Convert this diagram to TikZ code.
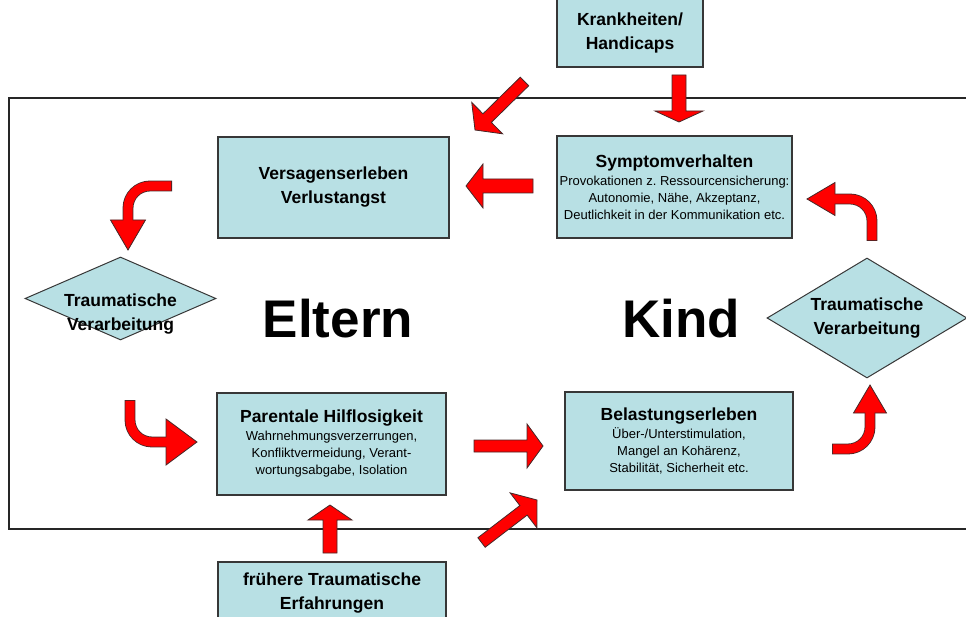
\documentclass[tikz,border=0pt]{standalone}
\usepackage{fontspec}
\setmainfont{Liberation Sans}
\usetikzlibrary{calc,shapes.geometric}
\definecolor{boxfill}{RGB}{184,224,228}
\definecolor{boxline}{RGB}{55,55,55}
\definecolor{arrline}{RGB}{70,40,40}
\newcommand{\blockarr}[5]{%
  \coordinate (ab) at ($#2!#5!#1$);
  \filldraw[barrow] ($#1!#3!90:#2$) -- ($(ab)!#3!90:#2$) -- ($(ab)!#4!90:#2$) -- #2 --
    ($(ab)!#4!-90:#2$) -- ($(ab)!#3!-90:#2$) -- ($#1!#3!-90:#2$) -- cycle;}
\frenchspacing
\begin{document}
\begin{tikzpicture}[x=1pt,y=-1pt,
  box/.style={draw=boxline, line width=1.3pt, fill=boxfill, inner sep=0pt},
  boxtext/.style={align=center, inner sep=0pt, font=\fontsize{13}{17}\selectfont},
  titletext/.style={align=center, inner sep=0pt, font=\bfseries\fontsize{17.5}{24}\selectfont},
  dia/.style={diamond, draw=boxline, line width=1pt, fill=boxfill, inner sep=0pt},
  barrow/.style={fill=red, draw=arrline, line width=0.8pt, line join=miter},
  shaftout/.style={draw=arrline, line width=10.8pt, rounded corners=22pt},
  shaftin/.style={draw=red, line width=9.2pt, rounded corners=22pt},
  frame/.style={draw=black!85, line width=1.2pt},
  big/.style={font=\bfseries\fontsize{53}{53}\selectfont, inner sep=0pt}]
\useasboundingbox (0,0) rectangle (966,617);
% frame
\draw[frame] (975,98) -- (9,98) -- (9,529) -- (975,529);
% boxes
\node[box, minimum width=146, minimum height=68] (kr) at (630,33) {};
\node[titletext] (krt) at (kr.center) {Krankheiten/\\Handicaps};
\node[box, minimum width=235, minimum height=102] (sym) at (674.5,187) {};
\node[boxtext] (symt) at (sym.center) {{\bfseries\fontsize{17.5}{19}\selectfont Symptomverhalten}\\[1pt]Provokationen z.\ Ressourcensicherung:\\Autonomie, Nähe, Akzeptanz,\\Deutlichkeit in der Kommunikation etc.};
\node[box, minimum width=231, minimum height=101] (vers) at (333.5,187.5) {};
\node[titletext] (verst) at (vers.center) {Versagenserleben\\Verlustangst};
\node[box, minimum width=229, minimum height=102] (par) at (331.5,444) {};
\node[boxtext] (part) at (par.center) {{\bfseries\fontsize{17.5}{19}\selectfont Parentale Hilflosigkeit}\\[1pt]Wahrnehmungsverzerrungen,\\Konfliktvermeidung, Verant-\\wortungsabgabe, Isolation};
\node[box, minimum width=228, minimum height=98] (bel) at (679,441) {};
\node[boxtext] (belt) at (bel.center) {{\bfseries\fontsize{17.5}{19}\selectfont Belastungserleben}\\[1pt]Über-/Unterstimulation,\\Mangel an Kohärenz,\\Stabilität, Sicherheit etc.};
\node[box, minimum width=228, minimum height=62] (fr) at (332,593) {};
\node[titletext] (frt) at (fr.center) {frühere Traumatische\\Erfahrungen};
% diamonds
\node[dia, minimum width=191, minimum height=83] (d1) at (120.5,298.5) {};
\node[titletext] (d1t) at (120.5,314) {Traumatische\\Verarbeitung};
\node[dia, minimum width=200, minimum height=120] (d2) at (867,318) {};
\node[titletext] (d2t) at (867,318) {Traumatische\\Verarbeitung};
% big labels
\node[big] (eltern) at (338,319) {Eltern};
\node[big] (kind) at (681,319) {Kind};
% straight block arrows
\coordinate (a1t) at (524.5,81.5); \coordinate (a1h) at (475,130);
\blockarr{(a1t)}{(a1h)}{6pt}{22pt}{17pt}
\coordinate (a2t) at (679,75); \coordinate (a2h) at (679,122);
\blockarr{(a2t)}{(a2h)}{7pt}{24pt}{11pt}
\coordinate (a3t) at (533,186); \coordinate (a3h) at (466,186);
\blockarr{(a3t)}{(a3h)}{7pt}{22pt}{17pt}
\coordinate (a4t) at (474,446); \coordinate (a4h) at (543,446);
\blockarr{(a4t)}{(a4h)}{6pt}{22pt}{16pt}
\coordinate (a5t) at (481.5,542.5); \coordinate (a5h) at (537,500);
\blockarr{(a5t)}{(a5h)}{6pt}{22pt}{17pt}
\coordinate (a6t) at (330,553); \coordinate (a6h) at (330,505);
\blockarr{(a6t)}{(a6h)}{7pt}{22pt}{15pt}
% curved arrows
% A (top left)
\draw[shaftout] (172,186) -| (128,220);
\filldraw[barrow] (110.5,220) -- (128,250) -- (145.5,220) -- cycle;
\draw[shaftin] (171.2,186) -| (128,221.5);
% B (bottom left)
\draw[shaftout] (130,400) |- (166,442);
\filldraw[barrow] (166,419) -- (197,442) -- (166,465) -- cycle;
\draw[shaftin] (130,400.8) |- (167.5,442);
% C (top right)
\draw[shaftout] (872,241) |- (835,199);
\filldraw[barrow] (835,182.5) -- (807,199) -- (835,215.5) -- cycle;
\draw[shaftin] (872,240.2) |- (833.5,199);
% D (bottom right)
\draw[shaftout] (832,449) -| (870,413);
\filldraw[barrow] (853.5,413) -- (870,385) -- (886.5,413) -- cycle;
\draw[shaftin] (832.8,449) -| (870,411.5);
\end{tikzpicture}
\end{document}
